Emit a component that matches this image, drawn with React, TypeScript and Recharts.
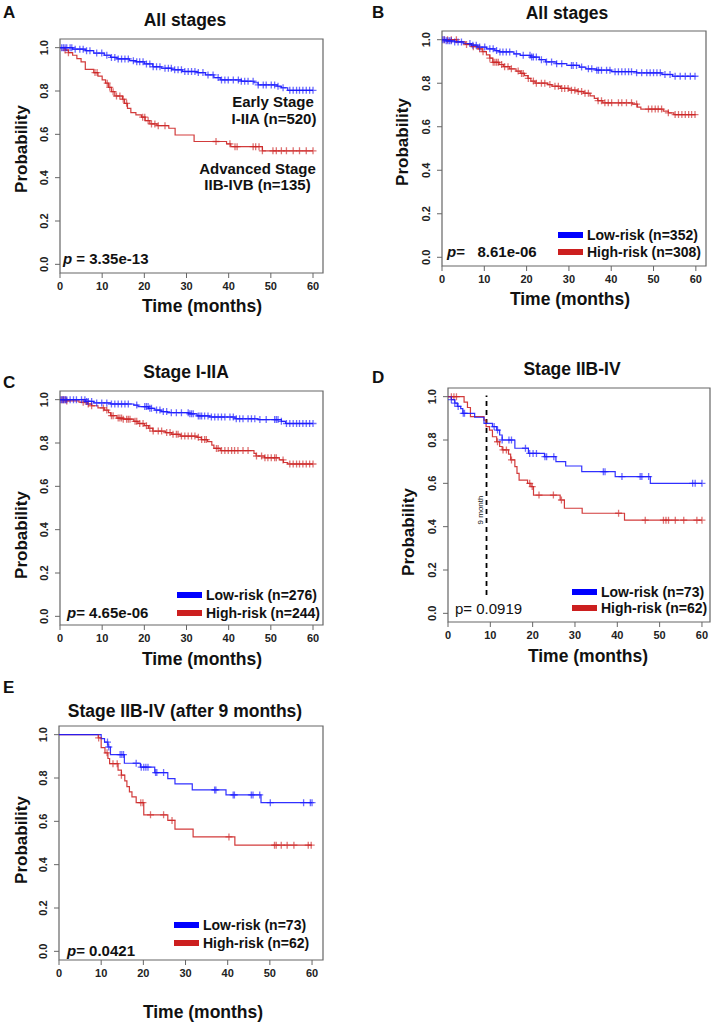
import React from "react";
import {
  ComposedChart,
  Line,
  Scatter,
  XAxis,
  YAxis,
  ReferenceArea,
  ReferenceLine,
} from "recharts";

const FONT = '"Liberation Sans", Arial, Helvetica, sans-serif';
const BLUE = "#1a1aff";
const RED = "#cd2626";
const BOX = "#666";

const X_TICKS = [0, 10, 20, 30, 40, 50, 60];
const Y_TICKS = [0, 0.2, 0.4, 0.6, 0.8, 1.0];

// A: all stages, by stage
const aEarlyT = [0, 3, 6, 8, 10.5, 12, 13.5, 16.5, 18, 20, 22, 24, 26.5, 29, 32.5, 34.5, 36.5, 38, 43, 46, 47, 51.5, 52.5, 54];
const aEarlyS = [1, 0.993, 0.986, 0.975, 0.965, 0.955, 0.948, 0.94, 0.935, 0.925, 0.912, 0.905, 0.898, 0.89, 0.885, 0.874, 0.862, 0.851, 0.845, 0.838, 0.828, 0.822, 0.815, 0.803];
const aEarlyC = [0.4, 0.8, 1.2, 1.6, 2.4, 2.8, 3.6, 4.7, 5.5, 6.3, 7.1, 8.7, 9.9, 11.1, 12.2, 13.0, 13.8, 14.6, 15.4, 16.2, 17.4, 18.2, 18.9, 19.7, 20.5, 21.3, 22.1, 22.9, 23.7, 24.9, 25.7, 26.4, 27.2, 28.0, 28.8, 29.6, 30.4, 31.2, 32.0, 32.8, 33.9, 35.1, 36.3, 37.5, 38.3, 39.1, 39.9, 41.1, 42.3, 43.0, 43.8, 44.6, 45.8, 47.0, 48.2, 48.9, 50.1, 50.9, 51.7, 52.9, 54.5, 55.3, 56.1, 56.8, 57.6, 58.4, 59.2, 60.0];
const aAdvT = [0, 1.2, 2, 3, 4, 5, 6, 8, 9, 10, 10.8, 11.5, 12.2, 13, 14.8, 15.3, 16, 16.8, 18, 19.3, 20.2, 21.3, 23, 25.8, 27.3, 31.8, 39.5, 40.5, 48];
const aAdvS = [1, 0.989, 0.977, 0.965, 0.949, 0.934, 0.9, 0.885, 0.869, 0.851, 0.836, 0.817, 0.797, 0.777, 0.762, 0.743, 0.72, 0.7, 0.69, 0.679, 0.663, 0.648, 0.64, 0.628, 0.597, 0.567, 0.556, 0.543, 0.524];
const aAdvC = [1.2, 2.0, 8.3, 8.8, 11.2, 11.8, 12.6, 13.4, 14.2, 15.0, 15.8, 19.6, 20.1, 20.9, 21.7, 22.5, 23.3, 24.9, 37.0, 40.3, 41.5, 42.0, 45.8, 46.4, 47.2, 48.0, 50.5, 51.3, 52.5, 53.7, 55.3, 56.8, 58.4, 60.0];

// B: all stages, by risk
const bLowT = [0, 1, 3, 5, 7, 8.5, 10.5, 12.5, 13.5, 17, 18.5, 21, 23, 24.5, 27, 29.5, 32.5, 34, 36.5, 40, 46, 52, 54.5];
const bLowS = [1, 0.995, 0.99, 0.982, 0.975, 0.966, 0.958, 0.95, 0.944, 0.935, 0.928, 0.92, 0.908, 0.898, 0.89, 0.882, 0.874, 0.866, 0.86, 0.853, 0.848, 0.84, 0.832];
const bLowC = [0.2, 0.6, 1.0, 1.4, 1.8, 2.2, 3.0, 3.8, 4.6, 6.6, 7.3, 8.1, 8.9, 10.1, 11.3, 12.1, 12.9, 13.7, 14.4, 15.2, 16.0, 17.6, 19.2, 20.8, 21.2, 21.6, 22.3, 23.5, 24.7, 25.9, 27.1, 28.3, 30.6, 31.0, 31.8, 33.0, 34.6, 35.4, 36.6, 37.0, 37.7, 38.9, 39.7, 40.9, 41.7, 42.5, 43.3, 44.1, 44.8, 46.0, 47.2, 48.4, 49.2, 50.0, 50.8, 51.6, 52.7, 53.9, 55.1, 56.3, 57.5, 58.7, 59.8];
const bHighT = [0, 3.5, 5.5, 7, 8.5, 9.5, 10.5, 11.3, 12, 13.5, 14.5, 16, 17.5, 18.5, 19.5, 20.3, 21, 22, 25, 26, 28, 30, 32, 33.5, 35, 36, 36.8, 38, 45, 46.2, 47, 52.3, 53.5, 54.8];
const bHighS = [1, 0.99, 0.978, 0.968, 0.958, 0.945, 0.93, 0.915, 0.896, 0.886, 0.876, 0.866, 0.856, 0.845, 0.835, 0.822, 0.81, 0.8, 0.794, 0.786, 0.776, 0.768, 0.762, 0.754, 0.742, 0.73, 0.72, 0.71, 0.704, 0.69, 0.681, 0.672, 0.664, 0.656];
const bHighC = [0.5, 1.3, 2.2, 3.4, 5.8, 7.4, 8.9, 9.7, 11.3, 12.1, 12.5, 12.9, 13.3, 14.1, 14.8, 15.6, 16.4, 18.0, 18.8, 19.2, 20.4, 21.6, 22.3, 23.5, 24.3, 25.5, 26.7, 27.5, 28.3, 29.0, 29.8, 30.6, 31.4, 32.2, 33.0, 33.8, 34.6, 36.9, 37.7, 38.5, 39.3, 40.1, 41.7, 42.5, 43.6, 44.8, 46.0, 48.8, 49.6, 50.4, 51.1, 51.9, 53.5, 55.1, 55.9, 56.7, 57.5, 58.3, 59.0, 59.8];

// C: stage I-IIA
const cLowT = [0, 6, 8, 12, 17.5, 18.5, 21, 22.5, 24, 25.5, 30.5, 32.5, 35.5, 41.5, 47, 52.5, 53.5];
const cLowS = [1, 0.992, 0.985, 0.98, 0.975, 0.968, 0.96, 0.952, 0.945, 0.94, 0.935, 0.925, 0.92, 0.912, 0.908, 0.9, 0.89];
const cLowC = [0.2, 0.6, 0.9, 1.3, 1.6, 2.4, 3.2, 3.9, 5.1, 5.9, 6.3, 6.7, 7.5, 8.7, 9.9, 11.1, 12.2, 13.0, 13.8, 14.6, 15.4, 16.2, 18.2, 20.1, 20.5, 20.9, 21.3, 21.7, 22.9, 23.7, 24.5, 25.3, 26.4, 27.6, 28.8, 30.4, 30.8, 31.2, 31.6, 32.8, 33.2, 33.6, 34.3, 35.1, 35.9, 36.7, 37.5, 38.3, 39.1, 40.3, 41.1, 41.8, 42.6, 43.4, 44.6, 45.4, 46.2, 47.4, 48.9, 50.9, 51.3, 51.7, 52.5, 53.7, 54.5, 55.3, 56.1, 56.8, 57.6, 58.4, 59.2, 60.0];
const cHighT = [0, 1.5, 4.5, 6.5, 7.5, 9, 10.5, 11.5, 12, 13.5, 15, 17.5, 18.5, 20, 21, 22, 25, 26.5, 28.5, 32.5, 33.5, 35, 36, 36.5, 38, 46, 46.5, 48.5, 52, 53, 54];
const cHighS = [1, 0.994, 0.988, 0.98, 0.972, 0.962, 0.952, 0.94, 0.926, 0.915, 0.91, 0.9, 0.89, 0.88, 0.868, 0.855, 0.848, 0.84, 0.832, 0.826, 0.816, 0.806, 0.79, 0.775, 0.765, 0.752, 0.74, 0.732, 0.722, 0.71, 0.703];
const cHighC = [0.4, 0.8, 1.2, 1.6, 5.5, 6.7, 7.5, 10.3, 11.1, 12.2, 12.6, 13.8, 14.2, 14.6, 15.0, 15.8, 16.2, 16.6, 17.8, 18.2, 18.9, 19.7, 20.5, 21.3, 22.1, 23.3, 24.1, 25.3, 26.1, 26.8, 27.6, 28.0, 28.8, 29.6, 30.4, 31.2, 32.0, 32.8, 33.6, 34.3, 34.7, 37.1, 37.5, 38.3, 39.1, 39.9, 40.7, 41.4, 42.2, 43.4, 44.6, 46.6, 47.8, 48.6, 49.3, 50.1, 50.9, 51.3, 52.9, 54.5, 55.3, 56.1, 56.8, 57.6, 58.4, 59.2, 60.0];

// D: stage IIB-IV
const dLowT = [0, 0.8, 1.6, 2.2, 3, 3.5, 6.3, 8.5, 10.5, 11.5, 12.2, 12.8, 15.8, 19, 22.8, 25.5, 27.8, 31.6, 39.5, 47.8];
const dLowS = [1, 0.986, 0.97, 0.955, 0.945, 0.923, 0.905, 0.877, 0.862, 0.846, 0.823, 0.8, 0.762, 0.738, 0.723, 0.7, 0.68, 0.654, 0.631, 0.6];
const dLowC = [0.8, 1.6, 2.4, 3.6, 3.9, 10.9, 11.7, 12.8, 14.4, 15.0, 18.3, 19.3, 20.1, 20.9, 22.9, 23.3, 25.0, 36.7, 37.1, 41.1, 45.4, 45.8, 47.4, 57.8, 58.4, 60.0];
const dHighT = [0, 3.8, 4.6, 5.3, 8.5, 9, 9.8, 10.5, 11.5, 12.2, 12.8, 14.3, 14.8, 15.8, 16.3, 16.8, 18.8, 19.6, 20.2, 26.5, 27.5, 31.7, 41.7];
const dHighS = [1, 0.975, 0.95, 0.908, 0.892, 0.862, 0.846, 0.815, 0.792, 0.77, 0.754, 0.735, 0.708, 0.677, 0.646, 0.615, 0.6, 0.585, 0.546, 0.523, 0.485, 0.462, 0.43];
const dHighC = [0.8, 1.4, 2.0, 11.7, 13.0, 13.8, 15.0, 19.3, 19.9, 21.5, 24.9, 26.8, 40.3, 46.6, 50.9, 51.5, 52.1, 53.7, 55.7, 58.8, 60.0];

// E: stage IIB-IV after 9 months
const eLowT = [0, 10, 10.8, 11.6, 12.2, 15.5, 19.3, 22.7, 25.8, 27.5, 31.6, 39.6, 47.9];
const eLowS = [1, 0.982, 0.966, 0.943, 0.908, 0.868, 0.85, 0.825, 0.797, 0.773, 0.745, 0.722, 0.686];
const eLowC = [11.5, 11.8, 14.5, 14.9, 15.3, 18.3, 19.5, 20.1, 20.6, 21.1, 22.9, 23.2, 24.8, 36.9, 37.2, 41.3, 41.6, 45.6, 46.0, 47.6, 50.1, 58.0, 59.6, 60.0];
const eHighT = [0, 9.3, 10, 10.9, 11.6, 12, 14, 14.8, 15.6, 16.1, 16.7, 17.3, 18.3, 20.1, 25.8, 27.5, 31.8, 41.7];
const eHighS = [1, 0.985, 0.94, 0.916, 0.89, 0.866, 0.836, 0.813, 0.787, 0.76, 0.736, 0.713, 0.686, 0.63, 0.604, 0.564, 0.528, 0.49];
const eHighC = [9.4, 11.4, 12.8, 13.8, 14.8, 19.4, 19.9, 21.7, 24.8, 26.8, 40.3, 51.1, 51.5, 52.7, 54.1, 55.7, 59.1, 59.8];

type Curve = { T: number[]; S: number[]; C: number[]; color: string };

const stepPoints = (T: number[], S: number[]) => {
  const pts = T.map((t, i) => ({ t, s: S[i] }));
  pts.push({ t: 60, s: S[S.length - 1] });
  return pts;
};

const survAt = (T: number[], S: number[], time: number) => {
  let v = S[0];
  T.forEach((t, i) => {
    if (t <= time) v = S[i];
  });
  return v;
};

const plus = (color: string) => (props: any) => {
  const { cx, cy } = props;
  if (cx == null || cy == null) return <g />;
  return (
    <path
      d={`M${cx - 3.5},${cy}h7M${cx},${cy - 3.5}v7`}
      stroke={color}
      strokeOpacity={0.65}
      strokeWidth={1.3}
      fill="none"
    />
  );
};

const YTick = (props: any) => {
  const { x, y, payload } = props;
  const tx = x - 9;
  return (
    <text
      x={tx}
      y={y}
      transform={`rotate(-90, ${tx}, ${y})`}
      textAnchor="middle"
      dominantBaseline="central"
      fontSize={11}
      fontWeight="bold"
      fontFamily={FONT}
      fill="#222"
    >
      {Number(payload.value).toFixed(1)}
    </text>
  );
};

interface PanelProps {
  box: [number, number, number, number];
  xMax: number;
  curves: Curve[];
  cutoff?: boolean;
}

const Panel: React.FC<PanelProps> = ({ box, xMax, curves, cutoff }) => {
  const [x0, y0, x1, y1] = box;
  const left = x0 - 60;
  const top = y0 - 12;
  const width = x1 - left + 4;
  const height = y1 - top + 40;
  return (
    <div style={{ position: "absolute", left, top, width, height }}>
      <ComposedChart
        width={width}
        height={height}
        margin={{ top: 12, right: 4, bottom: 10, left: 20 }}
      >
        <XAxis
          type="number"
          dataKey="t"
          domain={[0, xMax]}
          ticks={X_TICKS}
          interval={0}
          allowDataOverflow
          axisLine={false}
          tickLine={{ stroke: BOX }}
          tickSize={5}
          tickMargin={4}
          height={30}
          tick={{ fontSize: 11, fontWeight: "bold", fill: "#222", fontFamily: FONT }}
        />
        <YAxis
          type="number"
          dataKey="s"
          domain={[-0.04, 1.04]}
          ticks={Y_TICKS}
          interval={0}
          allowDataOverflow
          axisLine={false}
          tickLine={{ stroke: BOX }}
          tickSize={5}
          tickMargin={2}
          width={40}
          tick={(p: any) => <YTick {...p} />}
        />
        <ReferenceArea
          x1={0}
          x2={xMax}
          y1={-0.04}
          y2={1.04}
          fill="none"
          stroke={BOX}
          strokeWidth={1.2}
        />
        {cutoff && (
          <ReferenceLine
            segment={[
              { x: 9.1, y: 0.085 },
              { x: 9.1, y: 1.005 },
            ]}
            stroke="#000"
            strokeWidth={1.8}
            strokeDasharray="5 4"
          />
        )}
        {curves.map((c, i) => (
          <Line
            key={`l${i}`}
            data={stepPoints(c.T, c.S)}
            dataKey="s"
            type="stepAfter"
            stroke={c.color}
            strokeWidth={1.2}
            strokeOpacity={0.9}
            dot={false}
            activeDot={false}
            isAnimationActive={false}
          />
        ))}
        {curves.map((c, i) => (
          <Scatter
            key={`c${i}`}
            data={c.C.map((t) => ({ t, s: survAt(c.T, c.S, t) }))}
            dataKey="s"
            shape={plus(c.color)}
            isAnimationActive={false}
          />
        ))}
      </ComposedChart>
    </div>
  );
};

interface TxtProps {
  x: number;
  y: number;
  size?: number;
  bold?: boolean;
  anchor?: "start" | "middle" | "end";
  rotate?: number;
  children: React.ReactNode;
}

const Txt: React.FC<TxtProps> = ({ x, y, size = 15, bold = true, anchor = "start", rotate = 0, children }) => {
  const tx = anchor === "start" ? "0" : anchor === "middle" ? "-50%" : "-100%";
  return (
    <div
      style={{
        position: "absolute",
        left: x,
        top: y,
        transform: `translate(${tx}, -50%)${rotate ? ` rotate(${rotate}deg)` : ""}`,
        fontFamily: FONT,
        fontSize: size,
        fontWeight: bold ? "bold" : "normal",
        lineHeight: 1,
        whiteSpace: "pre",
        color: "#111",
      }}
    >
      {children}
    </div>
  );
};

const Swatch = ({ x, y, color }: { x: number; y: number; color: string }) => (
  <div style={{ position: "absolute", left: x, top: y - 3, width: 25, height: 6, background: color }} />
);

const Legend2 = ({ x, y1, y2, low, high }: { x: number; y1: number; y2: number; low: string; high: string }) => (
  <>
    <Swatch x={x} y={y1} color="#0000ff" />
    <Swatch x={x} y={y2} color="#cc1f1f" />
    <Txt x={x + 29} y={y1} size={14}>{low}</Txt>
    <Txt x={x + 29} y={y2} size={14}>{high}</Txt>
  </>
);

const App: React.FC = () => {
  return (
    <div style={{ position: "absolute", left: 0, top: 0, width: 715, height: 1024, overflow: "hidden", background: "#fff" }}>
      <Panel
        box={[60, 39, 323, 273]}
        xMax={62.37}
        curves={[
          { T: aAdvT, S: aAdvS, C: aAdvC, color: RED },
          { T: aEarlyT, S: aEarlyS, C: aEarlyC, color: BLUE },
        ]}
      />
      <Panel
        box={[442, 31, 706, 266]}
        xMax={62.4}
        curves={[
          { T: bHighT, S: bHighS, C: bHighC, color: RED },
          { T: bLowT, S: bLowS, C: bLowC, color: BLUE },
        ]}
      />
      <Panel
        box={[60, 391, 323, 625]}
        xMax={62.37}
        curves={[
          { T: cHighT, S: cHighS, C: cHighC, color: RED },
          { T: cLowT, S: cLowS, C: cLowC, color: BLUE },
        ]}
      />
      <Panel
        box={[448, 388, 710, 622]}
        xMax={61.9}
        cutoff
        curves={[
          { T: dHighT, S: dHighS, C: dHighC, color: RED },
          { T: dLowT, S: dLowS, C: dLowC, color: BLUE },
        ]}
      />
      <Panel
        box={[59, 726, 323, 960]}
        xMax={62.6}
        curves={[
          { T: eHighT, S: eHighS, C: eHighC, color: RED },
          { T: eLowT, S: eLowS, C: eLowC, color: BLUE },
        ]}
      />

      {/* panel letters */}
      <Txt x={3} y={12} size={17}>A</Txt>
      <Txt x={372} y={12} size={17}>B</Txt>
      <Txt x={3} y={382} size={17}>C</Txt>
      <Txt x={372} y={377} size={17}>D</Txt>
      <Txt x={3} y={687} size={17}>E</Txt>

      {/* titles */}
      <Txt x={185} y={21} size={17.5} anchor="middle">All stages</Txt>
      <Txt x={567} y={14} size={17.5} anchor="middle">All stages</Txt>
      <Txt x={186} y={373} size={17.5} anchor="middle">Stage I-IIA</Txt>
      <Txt x={572} y={370} size={17.5} anchor="middle">Stage IIB-IV</Txt>
      <Txt x={185} y={712} size={17.5} anchor="middle">Stage IIB-IV (after 9 months)</Txt>

      {/* axis titles */}
      <Txt x={202} y={307} size={17.5} anchor="middle">Time (months)</Txt>
      <Txt x={570} y={300} size={17.5} anchor="middle">Time (months)</Txt>
      <Txt x={202} y={660} size={17.5} anchor="middle">Time (months)</Txt>
      <Txt x={588} y={657} size={17.5} anchor="middle">Time (months)</Txt>
      <Txt x={203} y={1013} size={17.5} anchor="middle">Time (months)</Txt>
      <Txt x={21} y={149} size={17} anchor="middle" rotate={-90}>Probability</Txt>
      <Txt x={402} y={142} size={17} anchor="middle" rotate={-90}>Probability</Txt>
      <Txt x={21} y={535} size={17} anchor="middle" rotate={-90}>Probability</Txt>
      <Txt x={408} y={532} size={17} anchor="middle" rotate={-90}>Probability</Txt>
      <Txt x={21} y={840} size={17} anchor="middle" rotate={-90}>Probability</Txt>

      {/* panel A labels */}
      <Txt x={273} y={101} anchor="middle">Early Stage</Txt>
      <Txt x={274} y={118} anchor="middle">I-IIA (n=520)</Txt>
      <Txt x={257.5} y={168} anchor="middle">Advanced Stage</Txt>
      <Txt x={257.5} y={184} anchor="middle">IIB-IVB (n=135)</Txt>
      <Txt x={63} y={258}><i>p</i> = 3.35e-13</Txt>

      {/* panel B */}
      <Legend2 x={558} y1={235} y2={252} low="Low-risk (n=352)" high="High-risk (n=308)" />
      <Txt x={447} y={251}><i>p</i>=   8.61e-06</Txt>

      {/* panel C */}
      <Legend2 x={177} y1={595} y2={613} low="Low-risk (n=276)" high="High-risk (n=244)" />
      <Txt x={67} y={612}><i>p</i>= 4.65e-06</Txt>

      {/* panel D */}
      <Legend2 x={572} y1={592} y2={608} low="Low-risk (n=73)" high="High-risk (n=62)" />
      <Txt x={455} y={608} bold={false}>p= 0.0919</Txt>
      <Txt x={481} y={510} size={8} bold={false} anchor="middle" rotate={-90}>9 month</Txt>

      {/* panel E */}
      <Legend2 x={174} y1={925} y2={943} low="Low-risk (n=73)" high="High-risk (n=62)" />
      <Txt x={67} y={950}><i>p</i>= 0.0421</Txt>
    </div>
  );
};

export default App;
